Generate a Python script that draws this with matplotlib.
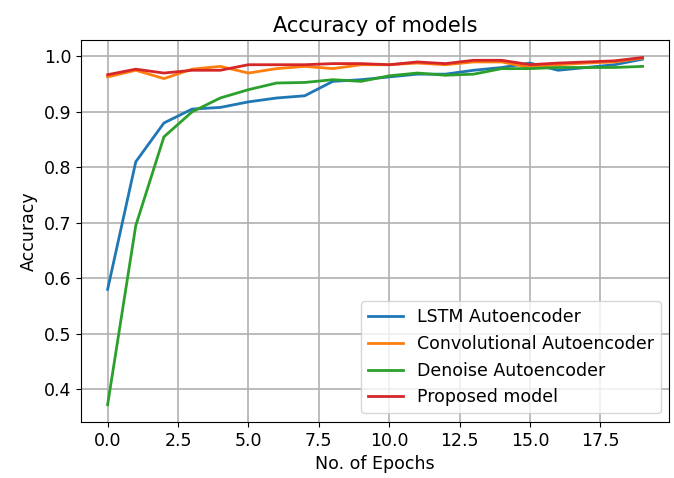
import matplotlib
matplotlib.use("Agg")
import matplotlib.pyplot as plt
import numpy as np

# Données
epochs = np.arange(20)
lstm = [0.580, 0.810, 0.880, 0.905, 0.908, 0.918, 0.925, 0.929, 0.955, 0.958,
        0.963, 0.968, 0.968, 0.975, 0.980, 0.988, 0.975, 0.980, 0.985, 0.995]
conv = [0.963, 0.975, 0.960, 0.977, 0.982, 0.970, 0.978, 0.982, 0.978, 0.985,
        0.985, 0.988, 0.985, 0.990, 0.990, 0.980, 0.985, 0.988, 0.990, 0.997]
denoise = [0.372, 0.695, 0.855, 0.900, 0.925, 0.940, 0.952, 0.953, 0.958, 0.955,
           0.965, 0.970, 0.966, 0.968, 0.978, 0.978, 0.980, 0.980, 0.980, 0.982]
proposed = [0.967, 0.977, 0.970, 0.975, 0.975, 0.985, 0.985, 0.985, 0.987, 0.987,
            0.985, 0.990, 0.987, 0.993, 0.993, 0.985, 0.988, 0.990, 0.992, 0.998]

plt.rcParams['font.size'] = 12.5

fig = plt.figure(figsize=(6.74, 4.78), dpi=100)
ax = fig.add_axes([0.120, 0.117, 0.873, 0.799])

ax.plot(epochs, lstm, label='LSTM Autoencoder', linewidth=2)
ax.plot(epochs, conv, label='Convolutional Autoencoder', linewidth=2)
ax.plot(epochs, denoise, label='Denoise Autoencoder', linewidth=2)
ax.plot(epochs, proposed, label='Proposed model', linewidth=2)

ax.set_title("Accuracy of models")
ax.set_xlabel("No. of Epochs")
ax.set_ylabel("Accuracy")
ax.grid(True, linewidth=1.2)
ax.legend(loc='lower right')

fig.savefig("out.png", dpi=100)
